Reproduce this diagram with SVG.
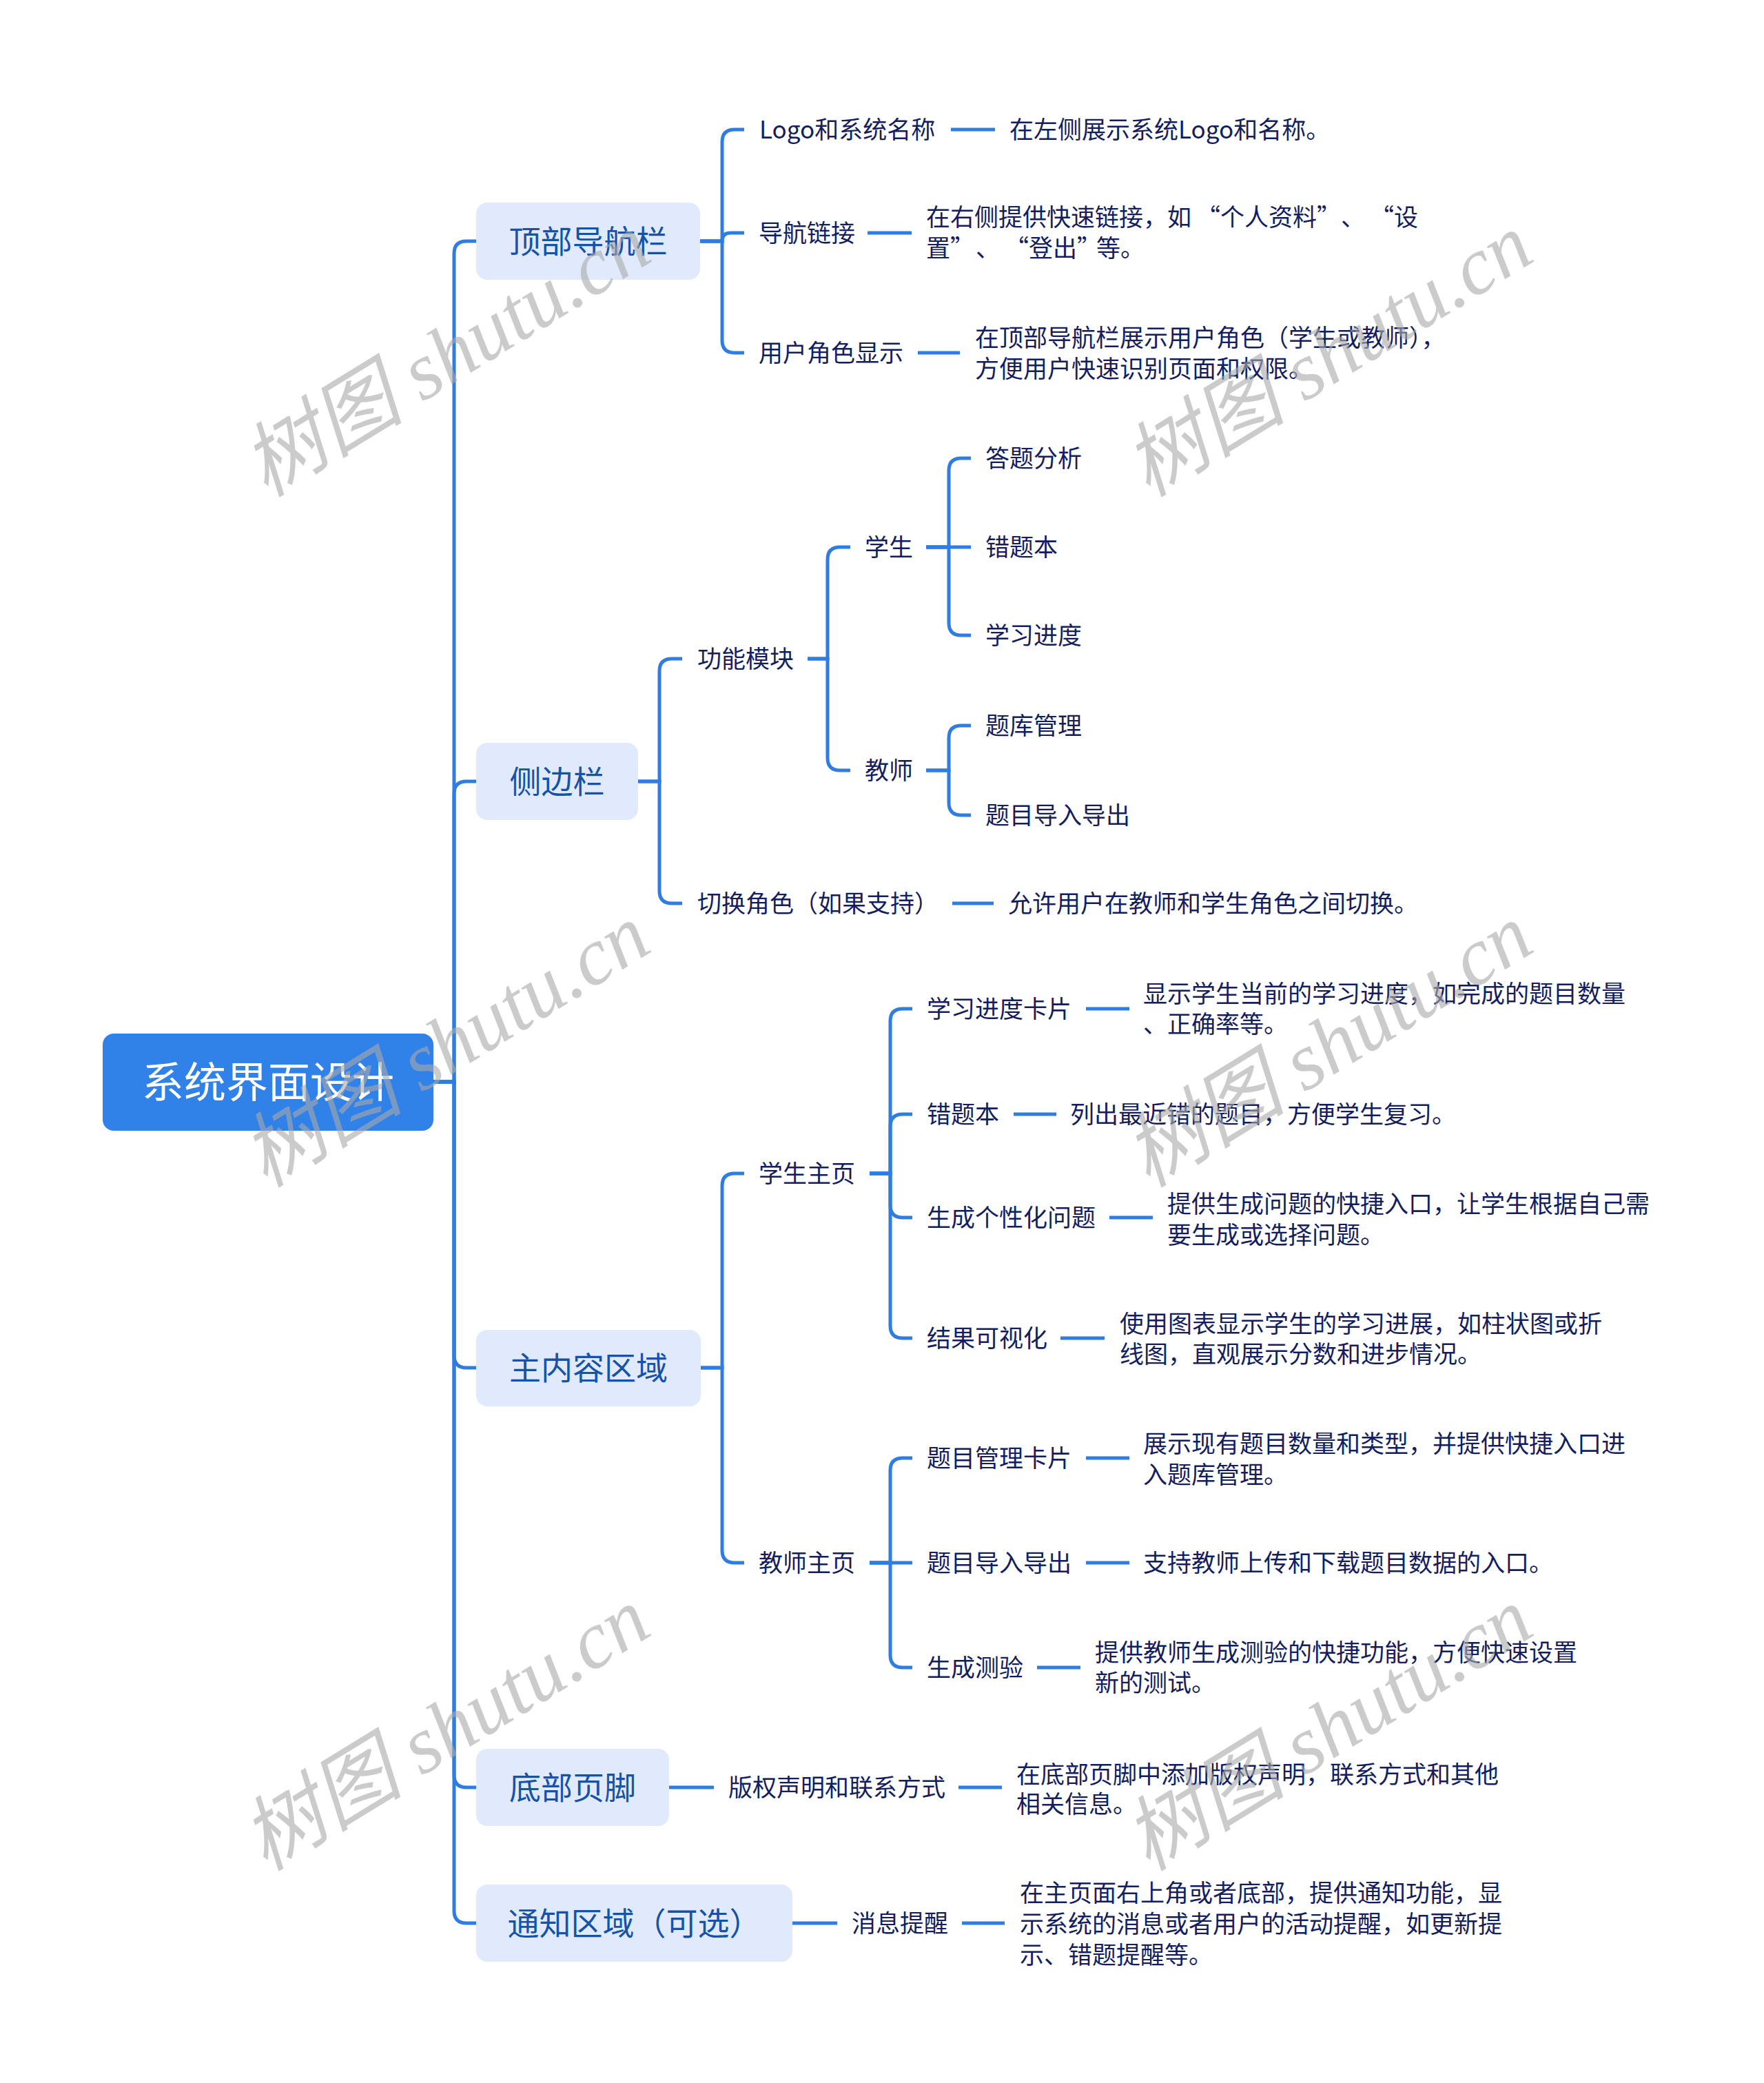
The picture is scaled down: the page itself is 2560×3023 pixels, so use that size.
<svg xmlns="http://www.w3.org/2000/svg" width="2560" height="3023" viewBox="0 0 2560 3023">
<style>
.ln{fill:none;stroke:#2f7de1;stroke-width:5}
.t{font-family:"Noto Sans CJK SC","Noto Sans",sans-serif}
.t2{font-size:35px;fill:#141e5f}
.t1{font-size:46px;fill:#1552a8;text-anchor:middle}
.t0{font-size:61px;fill:#ffffff;text-anchor:middle}
.b1{fill:#e1eafc}
.b0{fill:#3081e8}
.wm{font-family:"Liberation Serif","Noto Sans CJK SC",serif;font-style:italic;font-size:118px;fill:#aaaaaa;opacity:.6;text-anchor:middle}
</style>
<rect width="2560" height="3023" fill="#ffffff"/>
<g id="connectors">
<path class="ln" d="M629 1570H659V368Q659 350 677 350H691"/>
<path class="ln" d="M629 1570H659V1152Q659 1134 677 1134H691"/>
<path class="ln" d="M629 1570H659V1967Q659 1985 677 1985H691"/>
<path class="ln" d="M629 1570H659V2576Q659 2594 677 2594H691"/>
<path class="ln" d="M629 1570H659V2773Q659 2791 677 2791H691"/>
<path class="ln" d="M1016 350H1048V206Q1048 188 1066 188H1080"/>
<path class="ln" d="M1016 350H1048Q1048 338 1060 338H1080"/>
<path class="ln" d="M1016 350H1048V494Q1048 512 1066 512H1080"/>
<path class="ln" d="M1380 188H1444"/>
<path class="ln" d="M1259 338H1323"/>
<path class="ln" d="M1332 512H1393"/>
<path class="ln" d="M926 1134H957V974Q957 956 975 956H990"/>
<path class="ln" d="M926 1134H957V1293Q957 1311 975 1311H990"/>
<path class="ln" d="M1172 956H1201V812Q1201 794 1219 794H1234"/>
<path class="ln" d="M1172 956H1201V1100Q1201 1118 1219 1118H1234"/>
<path class="ln" d="M1344 794H1377V683Q1377 665 1395 665H1409"/>
<path class="ln" d="M1344 794H1409"/>
<path class="ln" d="M1344 794H1377V904Q1377 922 1395 922H1409"/>
<path class="ln" d="M1344 1118H1377V1071Q1377 1053 1395 1053H1409"/>
<path class="ln" d="M1344 1118H1377V1165Q1377 1183 1395 1183H1409"/>
<path class="ln" d="M1382 1311H1442"/>
<path class="ln" d="M1017 1985H1048V1721Q1048 1703 1066 1703H1080"/>
<path class="ln" d="M1017 1985H1048V2250Q1048 2268 1066 2268H1080"/>
<path class="ln" d="M1262 1703H1292V1482Q1292 1464 1310 1464H1324"/>
<path class="ln" d="M1262 1703H1292V1635Q1292 1617 1310 1617H1324"/>
<path class="ln" d="M1262 1703H1292V1749Q1292 1767 1310 1767H1324"/>
<path class="ln" d="M1262 1703H1292V1924Q1292 1942 1310 1942H1324"/>
<path class="ln" d="M1576 1464H1639"/>
<path class="ln" d="M1471 1617H1533"/>
<path class="ln" d="M1610 1767H1673"/>
<path class="ln" d="M1539 1942H1603"/>
<path class="ln" d="M1262 2268H1292V2134Q1292 2116 1310 2116H1324"/>
<path class="ln" d="M1262 2268H1324"/>
<path class="ln" d="M1262 2268H1292V2402Q1292 2420 1310 2420H1324"/>
<path class="ln" d="M1576 2116H1639"/>
<path class="ln" d="M1576 2268H1639"/>
<path class="ln" d="M1505 2420H1568"/>
<path class="ln" d="M971 2594H1036"/>
<path class="ln" d="M1391 2594H1454"/>
<path class="ln" d="M1150 2791H1215"/>
<path class="ln" d="M1396 2791H1458"/>
</g>
<g id="root"><rect class="b0" x="149" y="1500" width="480" height="141" rx="16"/><text class="t t0" x="389" y="1593">系统界面设计</text></g>
<g id="n-top"><rect class="b1" x="691" y="294" width="325" height="112" rx="16"/><text class="t t1" x="853.5" y="367">顶部导航栏</text></g>
<g id="n-logo"><text class="t t2" x="1102" y="201">Logo和系统名称</text></g>
<g id="d-logo"><text class="t t2" x="1465" y="201">在左侧展示系统Logo和名称。</text></g>
<g id="n-navlink"><text class="t t2" x="1101" y="351">导航链接</text></g>
<g id="d-navlink"><text class="t t2" y="328"><tspan x="1344">在右侧提供快速链接，如</tspan><tspan x="1736">“个人资料”</tspan><tspan x="1946">、</tspan><tspan x="1988">“设</tspan></text><text class="t t2" y="373"><tspan x="1344">置”</tspan><tspan x="1416">、</tspan><tspan x="1458">“登出”</tspan><tspan x="1591">等。</tspan></text></g>
<g id="n-role"><text class="t t2" x="1101" y="525">用户角色显示</text></g>
<g id="d-role"><text class="t t2" x="1415" y="503">在顶部导航栏展示用户角色（学生或教师），</text><text class="t t2" x="1415" y="548">方便用户快速识别页面和权限。</text></g>
<g id="n-side"><rect class="b1" x="691" y="1078" width="235" height="112" rx="16"/><text class="t t1" x="808.5" y="1151">侧边栏</text></g>
<g id="n-func"><text class="t t2" x="1012" y="969">功能模块</text></g>
<g id="n-stu"><text class="t t2" x="1255" y="807">学生</text></g>
<g id="n-ana"><text class="t t2" x="1430" y="678">答题分析</text></g>
<g id="n-wrong1"><text class="t t2" x="1430" y="807">错题本</text></g>
<g id="n-prog1"><text class="t t2" x="1430" y="935">学习进度</text></g>
<g id="n-tea"><text class="t t2" x="1255" y="1131">教师</text></g>
<g id="n-bank"><text class="t t2" x="1430" y="1066">题库管理</text></g>
<g id="n-io1"><text class="t t2" x="1430" y="1196">题目导入导出</text></g>
<g id="n-switch"><text class="t t2" x="1012" y="1324">切换角色（如果支持）</text></g>
<g id="d-switch"><text class="t t2" x="1463" y="1324">允许用户在教师和学生角色之间切换。</text></g>
<g id="n-main"><rect class="b1" x="691" y="1930" width="326" height="111" rx="16"/><text class="t t1" x="854" y="2002">主内容区域</text></g>
<g id="n-stuhome"><text class="t t2" x="1101" y="1716">学生主页</text></g>
<g id="n-progcard"><text class="t t2" x="1345" y="1477">学习进度卡片</text></g>
<g id="d-progcard"><text class="t t2" x="1659" y="1455">显示学生当前的学习进度，如完成的题目数量</text><text class="t t2" x="1659" y="1499">、正确率等。</text></g>
<g id="n-wrong2"><text class="t t2" x="1345" y="1630">错题本</text></g>
<g id="d-wrong2"><text class="t t2" x="1553" y="1630">列出最近错的题目，方便学生复习。</text></g>
<g id="n-gen"><text class="t t2" x="1345" y="1780">生成个性化问题</text></g>
<g id="d-gen"><text class="t t2" x="1694" y="1760">提供生成问题的快捷入口，让学生根据自己需</text><text class="t t2" x="1694" y="1805">要生成或选择问题。</text></g>
<g id="n-vis"><text class="t t2" x="1345" y="1955">结果可视化</text></g>
<g id="d-vis"><text class="t t2" x="1625" y="1934">使用图表显示学生的学习进展，如柱状图或折</text><text class="t t2" x="1625" y="1978">线图，直观展示分数和进步情况。</text></g>
<g id="n-teahome"><text class="t t2" x="1101" y="2281">教师主页</text></g>
<g id="n-qcard"><text class="t t2" x="1345" y="2129">题目管理卡片</text></g>
<g id="d-qcard"><text class="t t2" x="1659" y="2108">展示现有题目数量和类型，并提供快捷入口进</text><text class="t t2" x="1659" y="2153">入题库管理。</text></g>
<g id="n-io2"><text class="t t2" x="1345" y="2281">题目导入导出</text></g>
<g id="d-io2"><text class="t t2" x="1659" y="2281">支持教师上传和下载题目数据的入口。</text></g>
<g id="n-quiz"><text class="t t2" x="1345" y="2433">生成测验</text></g>
<g id="d-quiz"><text class="t t2" x="1589" y="2411">提供教师生成测验的快捷功能，方便快速设置</text><text class="t t2" x="1589" y="2455">新的测试。</text></g>
<g id="n-footer"><rect class="b1" x="691" y="2538" width="280" height="112" rx="16"/><text class="t t1" x="831" y="2611">底部页脚</text></g>
<g id="n-copy"><text class="t t2" x="1057" y="2607">版权声明和联系方式</text></g>
<g id="d-copy"><text class="t t2" x="1475" y="2588">在底部页脚中添加版权声明，联系方式和其他</text><text class="t t2" x="1475" y="2631">相关信息。</text></g>
<g id="n-notify"><rect class="b1" x="691" y="2735" width="459" height="112" rx="16"/><text class="t t1" x="920.5" y="2808">通知区域（可选）</text></g>
<g id="n-msg"><text class="t t2" x="1236" y="2804">消息提醒</text></g>
<g id="d-msg"><text class="t t2" x="1480" y="2760">在主页面右上角或者底部，提供通知功能，显</text><text class="t t2" x="1480" y="2805">示系统的消息或者用户的活动提醒，如更新提</text><text class="t t2" x="1480" y="2850">示、错题提醒等。</text></g>
<g id="watermarks">
<text class="wm" transform="translate(648 516) rotate(-31.5)" dominant-baseline="central">树图 shutu.cn</text>
<text class="wm" transform="translate(1928 516) rotate(-31.5)" dominant-baseline="central">树图 shutu.cn</text>
<text class="wm" transform="translate(647 1518) rotate(-31.5)" dominant-baseline="central">树图 shutu.cn</text>
<text class="wm" transform="translate(1928 1518) rotate(-31.5)" dominant-baseline="central">树图 shutu.cn</text>
<text class="wm" transform="translate(647 2510) rotate(-31.5)" dominant-baseline="central">树图 shutu.cn</text>
<text class="wm" transform="translate(1928 2510) rotate(-31.5)" dominant-baseline="central">树图 shutu.cn</text>
</g>
</svg>
